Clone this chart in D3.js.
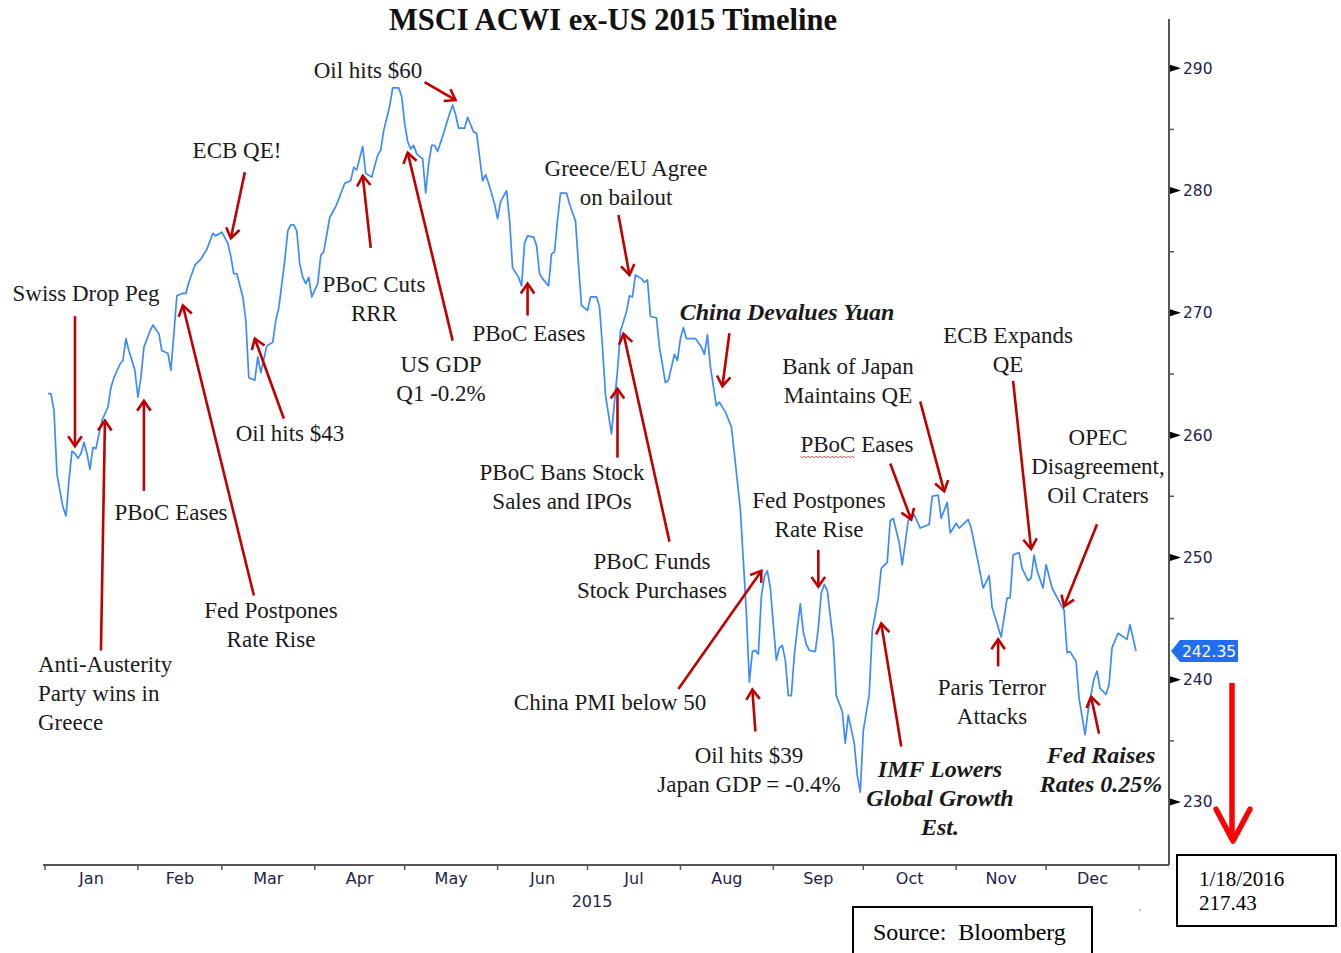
<!DOCTYPE html>
<html>
<head>
<meta charset="utf-8">
<script src="https://cdn.jsdelivr.net/npm/d3@7"></script>
<style>
body { margin: 0; background: #fff; }
svg { display: block; }
</style>
</head>
<body>
<div id="plot"></div>
<script>
// MSCI ACWI ex-US, 2015 closes
let year = 2015;

let dates = [
    '01-02','01-03','01-04','01-05','01-07','01-08','01-09','01-10','01-11','01-12','01-13','01-14','01-15','01-16','01-17','01-18','01-19','01-20','01-22','01-23','01-24','01-26','01-27','01-28','01-29','01-31',
    '02-01','02-02','02-03','02-05','02-06','02-08','02-09','02-10','02-11','02-12','02-13','02-14','02-16','02-17','02-18','02-20','02-22','02-24','02-26','02-27',
    '03-01','03-03','03-04','03-05','03-06','03-08','03-09','03-10','03-12','03-13','03-14','03-16','03-18','03-19','03-20','03-22','03-23','03-24','03-25','03-26','03-27','03-28','03-29','03-30','03-31',
    '04-02','04-03','04-04','04-06','04-08','04-09','04-11','04-13','04-14','04-15','04-17','04-18','04-20','04-22','04-23','04-24','04-26','04-27','04-29','04-30',
    '05-01','05-02','05-03','05-04','05-05','05-06','05-07','05-08','05-09','05-10','05-11','05-12','05-14','05-16','05-17','05-18','05-19','05-21','05-22','05-24','05-25','05-27','05-28','05-29','05-31',
    '06-01','06-02','06-04','06-05','06-06','06-08','06-09','06-10','06-11','06-13','06-14','06-15','06-16','06-18','06-19','06-20','06-21','06-22','06-24','06-25','06-27','06-28','06-29',
    '07-01','07-02','07-04','07-05','07-06','07-07','07-08','07-09','07-10','07-11','07-12','07-14','07-15','07-16','07-17','07-19','07-20','07-21','07-22','07-24','07-25','07-27','07-28','07-30','07-31',
    '08-01','08-02','08-03','08-04','08-06','08-08','08-09','08-10','08-11','08-13','08-14','08-16','08-18','08-19','08-21','08-22','08-23','08-24','08-25','08-26','08-27','08-28','08-29','08-30','08-31',
    '09-01','09-02','09-03','09-04','09-05','09-06','09-07','09-08','09-09','09-10','09-11','09-12','09-13','09-15','09-16','09-17','09-18','09-19','09-20','09-21','09-22','09-24','09-25','09-26','09-28','09-29','09-30',
    '10-01','10-03','10-04','10-06','10-07','10-09','10-10','10-11','10-13','10-14','10-16','10-18','10-20','10-23','10-24','10-26','10-27','10-29','10-30',
    '11-01','11-02','11-05','11-06','11-08','11-10','11-12','11-13','11-16','11-18','11-19','11-20','11-22','11-23','11-25','11-26','11-27','11-28','11-30',
    '12-01','12-03','12-06','12-07','12-08','12-09','12-11','12-12','12-14','12-15','12-17','12-18','12-19','12-21','12-22','12-23','12-25','12-28','12-29','12-31'
];

let values = [
    263.4,263.4,262.0,256.8,254.1,253.4,256.3,258.7,258.5,258.1,258.5,259.4,258.5,257.2,259.0,258.9,260.1,261.2,262.3,263.9,264.7,265.8,266.1,267.9,266.9,265.3,
    263.1,264.7,267.2,268.5,269.0,268.3,266.9,266.8,266.7,265.3,268.3,271.4,271.6,271.6,272.5,273.9,274.4,275.2,276.5,276.3,
    276.6,275.7,274.6,273.2,273.2,271.3,269.4,264.7,264.5,266.4,265.1,267.3,267.6,269.4,270.4,274.3,276.7,277.2,277.2,276.7,274.0,272.9,272.4,272.9,271.3,
    272.4,274.7,275.0,277.8,278.7,279.3,280.6,280.8,281.9,281.7,283.6,281.4,281.1,282.9,283.3,284.9,286.9,288.4,288.4,287.7,
    285.5,284.0,283.4,283.7,283.0,282.8,282.6,279.8,282.2,283.7,283.7,283.2,284.7,286.3,287.0,286.2,285.1,285.1,286.0,284.8,284.7,280.8,281.3,280.6,278.9,
    277.7,279.1,280.0,277.6,273.7,272.9,272.2,275.7,276.3,276.2,275.5,273.2,272.8,272.2,274.8,275.0,277.6,279.8,279.8,278.9,277.5,273.9,270.6,
    270.2,271.3,271.3,270.5,267.2,263.3,261.7,260.1,262.7,265.3,268.5,270.1,271.4,271.3,273.1,272.8,272.5,272.7,269.7,269.6,267.2,264.3,264.5,266.6,266.1,
    267.9,268.8,267.9,267.9,267.9,267.2,266.6,268.2,265.6,262.4,262.7,261.9,260.7,258.5,253.9,249.7,245.5,239.8,242.3,242.4,242.1,246.8,248.4,248.9,247.5,
    244.5,241.6,242.6,242.8,241.6,238.7,238.7,242.0,244.2,246.2,243.9,242.9,242.4,242.3,244.2,247.1,247.8,247.3,245.2,243.2,238.7,237.4,234.8,237.1,234.8,232.2,230.8,
    235.8,238.8,244.0,246.7,249.1,249.6,253.0,253.2,251.2,249.4,253.0,253.5,252.4,252.7,255.0,255.1,253.2,254.5,252.0,
    252.8,252.4,253.1,252.4,250.0,247.5,248.5,245.9,243.5,246.7,246.7,250.2,250.4,249.1,248.1,248.3,250.2,248.9,247.5,
    249.4,247.5,246.1,245.7,242.2,242.3,241.5,238.5,235.5,237.4,240.1,240.7,239.3,238.8,239.6,242.6,243.8,243.3,244.5,242.35
];

let monthLabels = ['Jan','Feb','Mar','Apr','May','Jun','Jul','Aug','Sep','Oct','Nov','Dec'];
let yTicks = [230, 240, 250, 260, 270, 280, 290];
let yMinorTicks = [235, 245, 255, 265, 275, 285];

let title = 'MSCI ACWI ex-US 2015 Timeline';
let lastClose = { date: '1/18/2016', value: '217.43' };
let source = 'Source:  Bloomberg';

// event notes: text, where the text sits, and which point on the line the arrow hits
let notes = [
    { text: ['Swiss Drop Peg'], x: 86, y: 301, tip: ['01-11', 259.1], off: [0, -130] },
    { text: ['Anti-Austerity', 'Party wins in', 'Greece'], x: 38, y: 672, anchor: 'start', tip: ['01-21', 261.2], off: [-4, 230] },
    { text: ['PBoC Eases'], x: 171, y: 520, tip: ['02-03', 262.8], off: [0, 90] },
    { text: ['Fed Postpones', 'Rate Rise'], x: 271, y: 618, tip: ['02-16', 270.6], off: [71, 290] },
    { text: ['ECB QE!'], x: 237, y: 158, tip: ['03-04', 276.1], off: [14, -66] },
    { text: ['Oil hits $43'], x: 290, y: 441, tip: ['03-12', 267.9], off: [29, 80] },
    { text: ['PBoC Cuts', 'RRR'], x: 374, y: 292, tip: ['04-17', 281.2], off: [8, 72] },
    { text: ['Oil hits $60'], x: 368, y: 78, tip: ['05-18', 287.4], off: [-31, -18] },
    { text: ['US GDP', 'Q1 -0.2%'], x: 441, y: 372, tip: ['05-02', 283.1], off: [45, 188] },
    { text: ['PBoC Eases'], x: 529, y: 341, tip: ['06-11', 272.4], off: [0, 32] },
    { text: ['Greece/EU Agree', 'on bailout'], x: 626, y: 176, tip: ['07-15', 273.1], off: [-11, -60] },
    { text: ['China Devalues Yuan'], x: 787, y: 320, bold: true, tip: ['08-15', 264.0], off: [7, -53] },
    { text: ['PBoC Bans Stock', 'Sales and IPOs'], x: 562, y: 480, tip: ['07-11', 263.8], off: [0, 69] },
    { text: ['PBoC Funds', 'Stock Purchases'], x: 652, y: 569, tip: ['07-13', 268.3], off: [46, 208] },
    { text: ['China PMI below 50'], x: 610, y: 710, tip: ['08-28', 248.9], off: [-83, 118] },
    { text: ['Oil hits $39', 'Japan GDP = -0.4%'], x: 749, y: 763, tip: ['08-25', 239.2], off: [3, 42] },
    { text: ['Fed Postpones', 'Rate Rise'], x: 819, y: 508, tip: ['09-16', 247.6], off: [0, -37] },
    { text: ['Bank of Japan', 'Maintains QE'], x: 848, y: 374, tip: ['10-28', 255.4], off: [-24, -90] },
    { text: ['PBoC Eases'], x: 857, y: 452, squiggle: 4, tip: ['10-17', 253.1], off: [-21, -56] },
    { text: ['ECB Expands', 'QE'], x: 1008, y: 343, tip: ['11-26', 250.7], off: [-18, -168] },
    { text: ['OPEC', 'Disagreement,', 'Oil Craters'], x: 1098, y: 445, tip: ['12-07', 246.0], off: [33, -82] },
    { text: ['IMF Lowers', 'Global Growth', 'Est.'], x: 940, y: 777, bold: true, tip: ['10-07', 244.6], off: [20, 123] },
    { text: ['Paris Terror', 'Attacks'], x: 992, y: 695, tip: ['11-15', 243.3], off: [0, 27] },
    { text: ['Fed Raises', 'Rates 0.25%'], x: 1101, y: 763, bold: true, tip: ['12-16', 238.6], off: [8, 37] }
];

let serif = "Garamond, 'Liberation Serif', 'Times New Roman', serif";
let sans = "Tahoma, 'DejaVu Sans', sans-serif";
let axisInk = '#23234a';
let arrowRed = '#c00000';

let parseDate = d3.timeParse('%Y-%m-%d');
let toDate = function(md) { return parseDate(year + '-' + md); };

let data = dates.map(function(d, i) {
    return { date: toDate(d), value: values[i] };
});

let svg = d3.select('#plot')
    .append('svg')
        .attr('width', 1341)
        .attr('height', 953);

let x = d3.scaleTime()
    .domain([new Date(year, 0, 1), new Date(year + 1, 0, 1)])
    .range([45, 1139]);

let y = d3.scaleLinear()
    .domain([230, 290])
    .range([802, 68.3]);

let axisX = 1169, axisY = 865;

// title
svg.append('text')
    .attr('x', 613)
    .attr('y', 30)
    .attr('text-anchor', 'middle')
    .style('font-family', serif)
    .style('font-weight', 'bold')
    .style('font-size', '30.5px')
    .style('fill', '#111')
    .text(title);

// bottom axis
svg.append('line')
    .attr('x1', 43).attr('x2', axisX)
    .attr('y1', axisY).attr('y2', axisY)
    .attr('stroke', '#555')
    .attr('stroke-width', 2);

let monthStarts = d3.timeMonth.range(new Date(year, 0, 1), new Date(year + 1, 0, 2));

svg.selectAll('.mtick')
    .data(monthStarts)
    .enter()
    .append('line')
        .attr('x1', function(d) { return x(d); })
        .attr('x2', function(d) { return x(d); })
        .attr('y1', axisY)
        .attr('y2', axisY + 5)
        .attr('stroke', '#555')
        .attr('stroke-width', 1.5);

svg.selectAll('.mlabel')
    .data(monthLabels)
    .enter()
    .append('text')
        .attr('x', function(d, i) { return (x(monthStarts[i]) + x(monthStarts[i + 1])) / 2; })
        .attr('y', 884)
        .attr('text-anchor', 'middle')
        .style('font-family', sans)
        .style('font-size', '16px')
        .style('fill', axisInk)
        .text(function(d) { return d; });

svg.append('text')
    .attr('x', 592)
    .attr('y', 907)
    .attr('text-anchor', 'middle')
    .style('font-family', sans)
    .style('font-size', '16px')
    .style('fill', axisInk)
    .text(year);

// right axis
svg.append('line')
    .attr('x1', axisX).attr('x2', axisX)
    .attr('y1', 19).attr('y2', axisY)
    .attr('stroke', '#555')
    .attr('stroke-width', 2);

svg.selectAll('.minor')
    .data(yMinorTicks)
    .enter()
    .append('line')
        .attr('x1', axisX).attr('x2', axisX + 5)
        .attr('y1', function(d) { return y(d); })
        .attr('y2', function(d) { return y(d); })
        .attr('stroke', '#555')
        .attr('stroke-width', 1.5);

let yAxis = d3.axisRight(y)
    .tickValues(yTicks)
    .tickSize(0)
    .tickPadding(14);

let yg = svg.append('g')
    .attr('transform', 'translate(' + axisX + ',0)')
    .call(yAxis);
yg.select('.domain').remove();
yg.selectAll('text')
    .style('font-family', sans)
    .style('font-size', '15.5px')
    .style('fill', axisInk);

svg.selectAll('.tri')
    .data(yTicks)
    .enter()
    .append('path')
        .attr('d', function(d) {
            let ty = y(d);
            return 'M' + (axisX + 1) + ',' + (ty - 3.5) + 'L' + (axisX + 12) + ',' + ty + 'L' + (axisX + 1) + ',' + (ty + 3.5) + 'Z';
        })
        .attr('fill', '#000');

// price line
let line = d3.line()
    .x(function(d) { return x(d.date); })
    .y(function(d) { return y(d.value); });

svg.append('path')
    .datum(data)
    .attr('d', line)
    .attr('fill', 'none')
    .attr('stroke', '#3b8bff')
    .attr('stroke-width', 1.7)
    .attr('stroke-linejoin', 'round');

// last value tag
let last = data[data.length - 1];
let ly = y(last.value);
svg.append('path')
    .attr('d', 'M' + (axisX + 2) + ',' + ly + 'L' + (axisX + 11) + ',' + (ly - 11) + 'L1238,' + (ly - 11) + 'L1238,' + (ly + 11) + 'L' + (axisX + 11) + ',' + (ly + 11) + 'Z')
    .attr('fill', '#1f6fee');
svg.append('text')
    .attr('x', 1209)
    .attr('y', ly + 6)
    .attr('text-anchor', 'middle')
    .style('font-family', sans)
    .style('font-size', '15.5px')
    .style('fill', '#fff')
    .text(d3.format('.2f')(last.value));

// arrows
function arrowHead(tx, ty, fx, fy, len, spread) {
    let a = Math.atan2(ty - fy, tx - fx);
    let p1 = [tx - len * Math.cos(a - spread), ty - len * Math.sin(a - spread)];
    let p2 = [tx - len * Math.cos(a + spread), ty - len * Math.sin(a + spread)];
    return 'M' + p1[0] + ',' + p1[1] + 'L' + tx + ',' + ty + 'L' + p2[0] + ',' + p2[1];
}

let noteG = svg.selectAll('.note')
    .data(notes)
    .enter()
    .append('g');

noteG.each(function(d) {
    let g = d3.select(this);
    let tx = x(toDate(d.tip[0])), ty = y(d.tip[1]);
    let fx = tx + d.off[0], fy = ty + d.off[1];

    g.append('line')
        .attr('x1', fx).attr('y1', fy)
        .attr('x2', tx).attr('y2', ty)
        .attr('stroke', arrowRed)
        .attr('stroke-width', 2.6);
    g.append('path')
        .attr('d', arrowHead(tx, ty, fx, fy, 12, 0.6))
        .attr('fill', 'none')
        .attr('stroke', arrowRed)
        .attr('stroke-width', 2.6)
        .attr('stroke-linejoin', 'miter');

    let t = g.append('text')
        .attr('text-anchor', d.anchor || 'middle')
        .style('font-family', serif)
        .style('font-size', d.bold ? '24px' : '23px')
        .style('font-weight', d.bold ? 'bold' : 'normal')
        .style('font-style', d.bold ? 'italic' : 'normal')
        .style('fill', '#1a1a1a');
    d.text.forEach(function(s, i) {
        t.append('tspan')
            .attr('x', d.x)
            .attr('y', d.y + i * 29)
            .text(s);
    });

    if (d.squiggle) {
        let tsp = t.select('tspan').node();
        let w = tsp.getComputedTextLength();
        let sub = tsp.getSubStringLength(0, d.squiggle);
        let x0 = d.x - w / 2, x1 = x0 + sub, sy = d.y + 4;
        let pts = [];
        for (let k = 0; x0 + k * 2 <= x1; k++) {
            pts.push([x0 + k * 2, sy + (k % 2 ? 2 : 0)]);
        }
        g.append('path')
            .attr('d', d3.line()(pts))
            .attr('fill', 'none')
            .attr('stroke', '#e03030')
            .attr('stroke-width', 0.9);
    }
});

// big red arrow toward the january 2016 low
svg.append('line')
    .attr('x1', 1232).attr('y1', 683)
    .attr('x2', 1232).attr('y2', 840)
    .attr('stroke', '#ff0000')
    .attr('stroke-width', 5.5);
svg.append('path')
    .attr('d', arrowHead(1233, 841, 1233, 683, 36, 0.49))
    .attr('fill', 'none')
    .attr('stroke', '#ff0000')
    .attr('stroke-width', 5.5)
    .attr('stroke-linecap', 'round')
    .attr('stroke-linejoin', 'round');

// boxes
svg.append('rect')
    .attr('x', 1177).attr('y', 855)
    .attr('width', 159).attr('height', 71)
    .attr('fill', '#fff')
    .attr('stroke', '#000')
    .attr('stroke-width', 2);
svg.append('text')
    .attr('x', 1199).attr('y', 886)
    .style('font-family', "'Liberation Serif', 'Times New Roman', serif")
    .style('font-size', '21px')
    .style('fill', '#000')
    .text(lastClose.date);
svg.append('text')
    .attr('x', 1199).attr('y', 910)
    .style('font-family', "'Liberation Serif', 'Times New Roman', serif")
    .style('font-size', '21px')
    .style('fill', '#000')
    .text(lastClose.value);

svg.append('rect')
    .attr('x', 853).attr('y', 907)
    .attr('width', 239).attr('height', 60)
    .attr('fill', '#fff')
    .attr('stroke', '#000')
    .attr('stroke-width', 2);
svg.append('text')
    .attr('x', 873).attr('y', 940)
    .attr('xml:space', 'preserve')
    .style('white-space', 'pre')
    .style('font-family', "'Liberation Serif', 'Times New Roman', serif")
    .style('font-size', '24px')
    .style('fill', '#000')
    .text(source);

svg.append('circle')
    .attr('cx', x(new Date(year + 1, 0, 1)) + 1)
    .attr('cy', 910)
    .attr('r', 1)
    .attr('fill', '#aaa');
</script>
</body>
</html>
